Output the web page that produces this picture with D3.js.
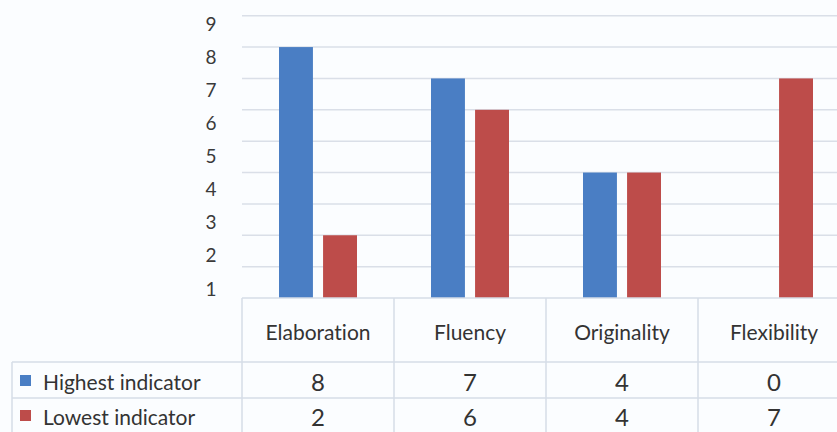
<!DOCTYPE html>
<html>
<head>
<meta charset="utf-8">
<script src="https://cdn.jsdelivr.net/npm/d3@7"></script>
<style>
  body { margin: 0; background: #fbfdff; }
  svg { display: block; font-family: Lato, "Open Sans", sans-serif; font-variant-ligatures: none; }
</style>
</head>
<body>
<script>
(function(){

//chart data
var categories = ["Elaboration", "Fluency", "Originality", "Flexibility"];
var seriesNames = ["Highest indicator", "Lowest indicator"];
var highest = [8, 7, 4, 0];
var lowest = [2, 6, 4, 7];
var tickLabels = [1, 2, 3, 4, 5, 6, 7, 8, 9];
var colors = ["#4a7ec4", "#bd4c4a"];

window.onload = drawChart();

function drawChart(){
    var width = 837,
        height = 432;

    var svg = d3.select("body")
        .append("svg")
        .attr("width", width)
        .attr("height", height);

    //scales
    var x0 = d3.scaleBand()
        .domain(categories)
        .range([242, 850]);

    var x1 = d3.scaleBand()
        .domain(seriesNames)
        .range([37, 115])
        .paddingInner(0.23);

    var y = d3.scaleLinear()
        .domain([0, 9])
        .range([298, 15.7]);

    //tick labels sit a bit lower than their gridlines in the original
    var yLabel = d3.scaleLinear()
        .domain([1, 9])
        .range([288, 23]);

    //gridlines
    svg.selectAll(".grid")
        .data(tickLabels)
        .enter()
        .append("line")
        .attr("class", "grid")
        .attr("x1", 242)
        .attr("x2", width)
        .attr("y1", function(d){ return y(d); })
        .attr("y2", function(d){ return y(d); })
        .attr("stroke", "#dadfe8")
        .attr("stroke-width", 1.5);

    //y labels
    svg.selectAll(".ylab")
        .data(tickLabels)
        .enter()
        .append("text")
        .attr("class", "ylab")
        .attr("x", 211)
        .attr("y", function(d){ return yLabel(d); })
        .attr("text-anchor", "middle")
        .attr("dominant-baseline", "central")
        .attr("font-size", 19)
        .attr("fill", "#3a3a3a")
        .text(function(d){ return d; });

    //bars
    var seriesValues = [highest, lowest];
    var groups = svg.selectAll(".cat")
        .data(categories)
        .enter()
        .append("g")
        .attr("class", "cat")
        .attr("transform", function(d){ return "translate(" + x0(d) + ",0)"; });

    groups.selectAll("rect")
        .data(function(d, i){
            return seriesNames.map(function(s, j){
                return { series: s, value: seriesValues[j][i], color: colors[j] };
            });
        })
        .enter()
        .append("rect")
        .attr("x", function(d){ return x1(d.series); })
        .attr("width", x1.bandwidth())
        .attr("y", function(d){ return y(d.value); })
        .attr("height", function(d){ return y(0) - y(d.value); })
        .attr("fill", function(d){ return d.color; });

    //data table
    var lineColor = "#d6dce7";
    var rowTop = [362, 398];
    var rowMid = [381, 416];

    svg.append("line")
        .attr("x1", 242).attr("x2", width)
        .attr("y1", y(0)).attr("y2", y(0))
        .attr("stroke", lineColor).attr("stroke-width", 1.5);

    svg.selectAll(".hline")
        .data(rowTop)
        .enter()
        .append("line")
        .attr("class", "hline")
        .attr("x1", 12).attr("x2", width)
        .attr("y1", function(d){ return d; })
        .attr("y2", function(d){ return d; })
        .attr("stroke", lineColor).attr("stroke-width", 1.5);

    svg.selectAll(".vline")
        .data(categories)
        .enter()
        .append("line")
        .attr("class", "vline")
        .attr("x1", function(d){ return x0(d); })
        .attr("x2", function(d){ return x0(d); })
        .attr("y1", y(0)).attr("y2", height)
        .attr("stroke", lineColor).attr("stroke-width", 1.5);

    svg.append("line")
        .attr("x1", 12).attr("x2", 12)
        .attr("y1", rowTop[0]).attr("y2", height)
        .attr("stroke", lineColor).attr("stroke-width", 1.5);

    //category headers
    svg.selectAll(".head")
        .data(categories)
        .enter()
        .append("text")
        .attr("class", "head")
        .attr("x", function(d){ return x0(d) + x0.bandwidth() / 2; })
        .attr("y", 331)
        .attr("text-anchor", "middle")
        .attr("dominant-baseline", "central")
        .attr("font-size", 21)
        .attr("fill", "#333")
        .text(function(d){ return d; });

    //legend keys and names
    seriesNames.forEach(function(s, j){
        svg.append("rect")
            .attr("x", 20)
            .attr("y", rowMid[j] - 6)
            .attr("width", 11)
            .attr("height", 11)
            .attr("fill", colors[j]);

        svg.append("text")
            .attr("x", 43)
            .attr("y", rowMid[j])
            .attr("dominant-baseline", "central")
            .attr("font-size", 21)
            .attr("fill", "#333")
            .text(s);

        svg.selectAll(".val" + j)
            .data(seriesValues[j])
            .enter()
            .append("text")
            .attr("x", function(d, i){ return x0(categories[i]) + x0.bandwidth() / 2; })
            .attr("y", rowMid[j])
            .attr("text-anchor", "middle")
            .attr("dominant-baseline", "central")
            .attr("font-size", 24)
            .attr("fill", "#333")
            .text(function(d){ return d; });
    });
};

})();
</script>
</body>
</html>
